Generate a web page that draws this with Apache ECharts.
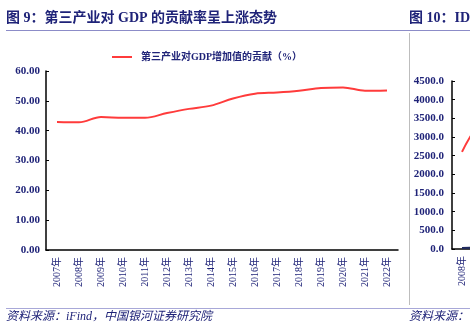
<!DOCTYPE html>
<html>
<head>
<meta charset="utf-8">
<script src="https://cdn.jsdelivr.net/npm/echarts@6/dist/echarts.min.js"></script>
<style>
  html, body { margin: 0; padding: 0; background: #fff; }
  #chart { width: 470px; height: 329px; }
</style>
</head>
<body>
<div id="chart"></div>
<script>
// Figure 9: tertiary industry contribution to GDP growth (%)
const years = ['2007年','2008年','2009年','2010年','2011年','2012年','2013年','2014年',
               '2015年','2016年','2017年','2018年','2019年','2020年','2021年','2022年'];
const tertiaryShare = [42.9, 42.8, 44.6, 44.3, 44.3, 45.9, 47.3, 48.4,
                       50.8, 52.4, 52.8, 53.4, 54.3, 54.5, 53.4, 53.5];
const seriesName = '第三产业对GDP增加值的贡献（%）';

// Figure 10 (next panel, partly visible at the right edge)
const idcYears = ['2008年','2009年','2010年','2011年','2012年','2013年','2014年','2015年'];
const idcMain = [2600, 3450, 3900, 4100, 4200, 4300, 4350, 4400];
const idcSecond = [30, 35, 40, 45, 50, 55, 60, 65];

const navy = '#1f2378';
const serif = '"Liberation Serif", "Noto Sans CJK SC", serif';
const cjk = '"Liberation Serif", "Noto Sans CJK SC", sans-serif';

const chart = echarts.init(document.getElementById('chart'), null, { renderer: 'canvas' });

chart.setOption({
  animation: false,
  backgroundColor: '#fff',
  graphic: [
    { type: 'text', left: 6, top: 11, style: { text: '图 9：第三产业对 GDP 的贡献率呈上涨态势', font: 'bold 14px ' + cjk, fill: navy } },
    { type: 'text', left: 409, top: 11, style: { text: '图 10：IDC', font: 'bold 14px ' + cjk, fill: navy } },
    { type: 'line', shape: { x1: 6, y1: 30.5, x2: 470, y2: 30.5 }, style: { stroke: '#8c8cc8', lineWidth: 1 } },
    { type: 'line', shape: { x1: 409.5, y1: 33, x2: 409.5, y2: 305 }, style: { stroke: '#bdbdbd', lineWidth: 1 } },
    { type: 'line', shape: { x1: 6, y1: 308.5, x2: 470, y2: 308.5 }, style: { stroke: '#a8a8d8', lineWidth: 1 } },
    { type: 'text', left: 6, top: 311, style: { text: '资料来源：iFind，中国银河证券研究院', font: 'italic 12px ' + cjk, fill: navy } },
    { type: 'text', left: 409, top: 311, style: { text: '资料来源：', font: 'italic 12px ' + cjk, fill: navy } }
  ],
  legend: {
    left: 107, top: 47,
    itemWidth: 20, itemHeight: 10,
    data: [{ name: seriesName, icon: 'path://M0,4L20,4L20,6L0,6Z' }],
    textStyle: { fontFamily: cjk, fontWeight: 'bold', fontSize: 10, color: navy, padding: [0, 0, 0, 4] }
  },
  grid: [
    { left: 46, top: 71, right: 72, bottom: 79, outerBoundsMode: 'none' },
    { left: 452, top: 81, width: 160, bottom: 80, outerBoundsMode: 'none' }
  ],
  xAxis: [
    {
      type: 'category', gridIndex: 0, data: years, boundaryGap: true,
      axisLine: { lineStyle: { color: '#000', width: 1.5 } },
      axisTick: { inside: true, length: 3, lineStyle: { color: '#000' } },
      axisLabel: { rotate: 90, interval: 0, margin: 7, fontFamily: cjk, fontSize: 10, color: navy }
    },
    {
      type: 'category', gridIndex: 1, data: idcYears, boundaryGap: true,
      axisLine: { lineStyle: { color: '#000', width: 1.5 } },
      axisTick: { inside: true, length: 3, lineStyle: { color: '#000' } },
      axisLabel: { rotate: 90, interval: 0, margin: 7, fontFamily: cjk, fontSize: 10, color: navy }
    }
  ],
  yAxis: [
    {
      type: 'value', gridIndex: 0, min: 0, max: 60, interval: 10,
      axisLine: { show: true, lineStyle: { color: '#000', width: 1.5 } },
      axisTick: { show: true, inside: true, length: 3, lineStyle: { color: '#000' } },
      splitLine: { show: false },
      axisLabel: { margin: 6, fontFamily: serif, fontWeight: 'bold', fontSize: 11, color: navy,
                   formatter: v => v.toFixed(2) }
    },
    {
      type: 'value', gridIndex: 1, min: 0, max: 4500, interval: 500,
      axisLine: { show: true, lineStyle: { color: '#000', width: 1.5 } },
      axisTick: { show: true, inside: true, length: 3, lineStyle: { color: '#000' } },
      splitLine: { show: false },
      axisLabel: { margin: 8, fontFamily: serif, fontWeight: 'bold', fontSize: 11, color: navy,
                   formatter: v => v.toFixed(1) }
    }
  ],
  series: [
    {
      name: seriesName, type: 'line', xAxisIndex: 0, yAxisIndex: 0,
      data: tertiaryShare, smooth: 0.35, showSymbol: false,
      lineStyle: { color: '#ff3b3b', width: 2 }, itemStyle: { color: '#ff3b3b' }
    },
    {
      name: 'IDC', type: 'line', xAxisIndex: 1, yAxisIndex: 1,
      data: idcMain, smooth: true, showSymbol: false,
      lineStyle: { color: '#ff3b3b', width: 2 }
    },
    {
      name: 'IDC2', type: 'line', xAxisIndex: 1, yAxisIndex: 1,
      data: idcSecond, smooth: true, showSymbol: false,
      lineStyle: { color: '#1f2a5f', width: 2 }
    }
  ]
});
</script>
</body>
</html>
